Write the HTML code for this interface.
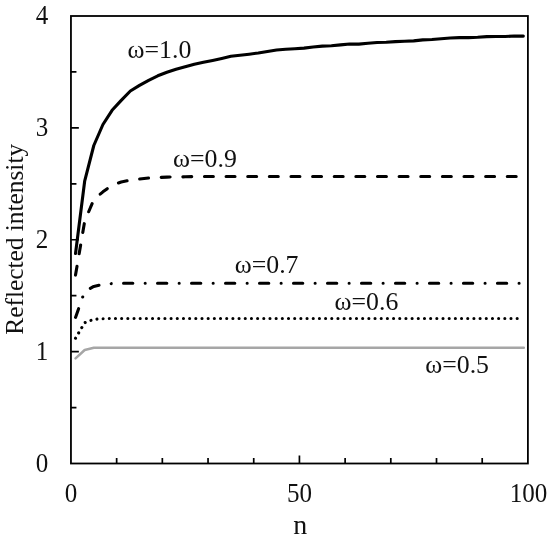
<!DOCTYPE html>
<html><head><meta charset="utf-8"><title>Reflected intensity</title>
<style>
html,body{margin:0;padding:0;background:#fff;}
svg{display:block;}
text{font-family:"Liberation Serif","DejaVu Serif",serif;fill:#111;font-variant-ligatures:none;}
</style></head>
<body>
<svg width="550" height="539" viewBox="0 0 550 539">
<rect width="550" height="539" fill="#fff"/>
<rect x="70.95" y="16.0" width="456.95" height="447.5" fill="none" stroke="#000" stroke-width="1.8"/>
<path d="M116.65,463.5 V458.00 M162.34,463.5 V458.00 M208.04,463.5 V458.00 M253.73,463.5 V458.00 M299.43,463.5 V455.60 M345.12,463.5 V458.00 M390.81,463.5 V458.00 M436.51,463.5 V458.00 M482.20,463.5 V458.00 M70.95,407.56 H76.45 M70.95,351.62 H78.85 M70.95,295.69 H76.45 M70.95,239.75 H78.85 M70.95,183.81 H76.45 M70.95,127.88 H78.85 M70.95,71.94 H76.45" stroke="#000" stroke-width="1.7" fill="none"/>
<path d="M75.57,358.40 L84.70,350.00 L93.84,347.80 L523.80,347.80" fill="none" stroke="#a6a6a6" stroke-width="2.5" stroke-linejoin="round" stroke-linecap="round"/>
<path d="M75.52,338.22 L84.66,322.73 L93.80,319.30 L102.94,318.70 L112.08,318.50 L121.21,318.50 L130.35,318.50 L139.49,318.50 L148.63,318.50 L157.77,318.50 L166.91,318.50 L176.05,318.50 L185.19,318.50 L194.33,318.50 L203.47,318.50 L212.60,318.50 L221.74,318.50 L230.88,318.50 L240.02,318.50 L249.16,318.50 L258.30,318.50 L267.44,318.50 L276.58,318.50 L285.72,318.50 L294.86,318.50 L303.99,318.50 L313.13,318.50 L322.27,318.50 L331.41,318.50 L340.55,318.50 L349.69,318.50 L358.83,318.50 L367.97,318.50 L377.11,318.50 L386.25,318.50 L395.38,318.50 L404.52,318.50 L413.66,318.50 L422.80,318.50 L431.94,318.50 L441.08,318.50 L450.22,318.50 L459.36,318.50 L468.50,318.50 L477.64,318.50 L486.77,318.50 L495.91,318.50 L505.05,318.50 L514.19,318.50 L523.33,318.50" fill="none" stroke="#000" stroke-width="3.09" stroke-linecap="round" stroke-linejoin="round" stroke-dasharray="0.01 6.17"/>
<path d="M75.52,317.40 L84.66,291.44 L93.80,286.41 L102.94,284.30 L112.08,283.60 L121.21,283.30 L130.35,283.30 L139.49,283.30 L148.63,283.30 L157.77,283.30 L166.91,283.30 L176.05,283.30 L185.19,283.30 L194.33,283.30 L203.47,283.30 L212.60,283.30 L221.74,283.30 L230.88,283.30 L240.02,283.30 L249.16,283.30 L258.30,283.30 L267.44,283.30 L276.58,283.30 L285.72,283.30 L294.86,283.30 L303.99,283.30 L313.13,283.30 L322.27,283.30 L331.41,283.30 L340.55,283.30 L349.69,283.30 L358.83,283.30 L367.97,283.30 L377.11,283.30 L386.25,283.30 L395.38,283.30 L404.52,283.30 L413.66,283.30 L422.80,283.30 L431.94,283.30 L441.08,283.30 L450.22,283.30 L459.36,283.30 L468.50,283.30 L477.64,283.30 L486.77,283.30 L495.91,283.30 L505.05,283.30 L514.19,283.30 L523.33,283.30" fill="none" stroke="#000" stroke-width="3.09" stroke-linecap="round" stroke-linejoin="round" stroke-dasharray="9.27 12.36 0.01 12.35"/>
<path d="M75.52,275.08 L84.66,221.34 L93.80,199.55 L102.94,191.83 L112.08,185.21 L121.21,182.00 L130.35,180.11 L139.49,179.00 L148.63,178.00 L157.77,177.50 L166.91,177.10 L176.05,176.93 L185.19,176.80 L194.33,176.61 L203.47,176.50 L212.60,176.50 L221.74,176.50 L230.88,176.50 L240.02,176.50 L249.16,176.50 L258.30,176.50 L267.44,176.50 L276.58,176.50 L285.72,176.50 L294.86,176.50 L303.99,176.50 L313.13,176.50 L322.27,176.50 L331.41,176.50 L340.55,176.50 L349.69,176.50 L358.83,176.50 L367.97,176.50 L377.11,176.50 L386.25,176.50 L395.38,176.50 L404.52,176.50 L413.66,176.50 L422.80,176.50 L431.94,176.50 L441.08,176.50 L450.22,176.50 L459.36,176.50 L468.50,176.50 L477.64,176.50 L486.77,176.50 L495.91,176.50 L505.05,176.50 L514.19,176.50 L523.33,176.50" fill="none" stroke="#000" stroke-width="3.09" stroke-linecap="round" stroke-linejoin="round" stroke-dasharray="8.9 12.73"/>
<path d="M75.52,253.50 L84.66,181.20 L93.80,145.50 L102.94,124.50 L112.08,110.30 L121.21,100.40 L130.35,91.00 L139.49,85.40 L148.63,80.30 L157.77,75.80 L166.91,72.30 L176.05,69.30 L185.19,66.80 L194.33,64.20 L203.47,62.20 L212.60,60.40 L221.74,58.40 L230.88,56.30 L240.02,55.30 L249.16,54.20 L258.30,53.00 L267.44,51.40 L276.58,50.00 L285.72,49.20 L294.86,48.70 L303.99,48.10 L313.13,47.00 L322.27,46.10 L331.41,45.80 L340.55,44.90 L349.69,44.00 L358.83,44.10 L367.97,43.30 L377.11,42.50 L386.25,42.30 L395.38,41.60 L404.52,41.20 L413.66,40.90 L422.80,39.90 L431.94,39.50 L441.08,38.70 L450.22,38.00 L459.36,37.60 L468.50,37.60 L477.64,37.30 L486.77,36.60 L495.91,36.50 L505.05,36.50 L514.19,36.00 L523.33,36.10" fill="none" stroke="#000" stroke-width="3.09" stroke-linejoin="round" stroke-linecap="round"/>
<text transform="translate(48.3,471.9) scale(0.96,1.02)" font-size="26.1" text-anchor="end">0</text>
<text transform="translate(48.3,360.02) scale(0.96,1.02)" font-size="26.1" text-anchor="end">1</text>
<text transform="translate(48.3,248.15) scale(0.96,1.02)" font-size="26.1" text-anchor="end">2</text>
<text transform="translate(48.3,136.28) scale(0.96,1.02)" font-size="26.1" text-anchor="end">3</text>
<text transform="translate(48.3,24.4) scale(0.96,1.02)" font-size="26.1" text-anchor="end">4</text>
<text transform="translate(70.9,501.9) scale(0.96,1.02)" font-size="26.1" text-anchor="middle">0</text>
<text transform="translate(299.4,501.9) scale(0.96,1.02)" font-size="26.1" text-anchor="middle">50</text>
<text transform="translate(528.5,501.9) scale(0.96,1.02)" font-size="26.1" text-anchor="middle">100</text>
<text transform="translate(300.2,534.2) scale(1.0,1.0)" font-size="28" text-anchor="middle">n</text>
<text transform="translate(127.5,57.7) scale(1.0,1.0)" font-size="25.8" text-anchor="start">ω=1.0</text>
<text transform="translate(173.0,167.1) scale(1.0,1.0)" font-size="25.8" text-anchor="start">ω=0.9</text>
<text transform="translate(234.7,272.6) scale(1.0,1.0)" font-size="25.8" text-anchor="start">ω=0.7</text>
<text transform="translate(334.5,310.0) scale(1.0,1.0)" font-size="25.8" text-anchor="start">ω=0.6</text>
<text transform="translate(425.2,373.1) scale(1.0,1.0)" font-size="25.8" text-anchor="start">ω=0.5</text>
<text transform="translate(22.9,239.3) rotate(-90) scale(1.04,1)" font-size="24.4" text-anchor="middle">Reflected intensity</text>
</svg>
</body></html>
